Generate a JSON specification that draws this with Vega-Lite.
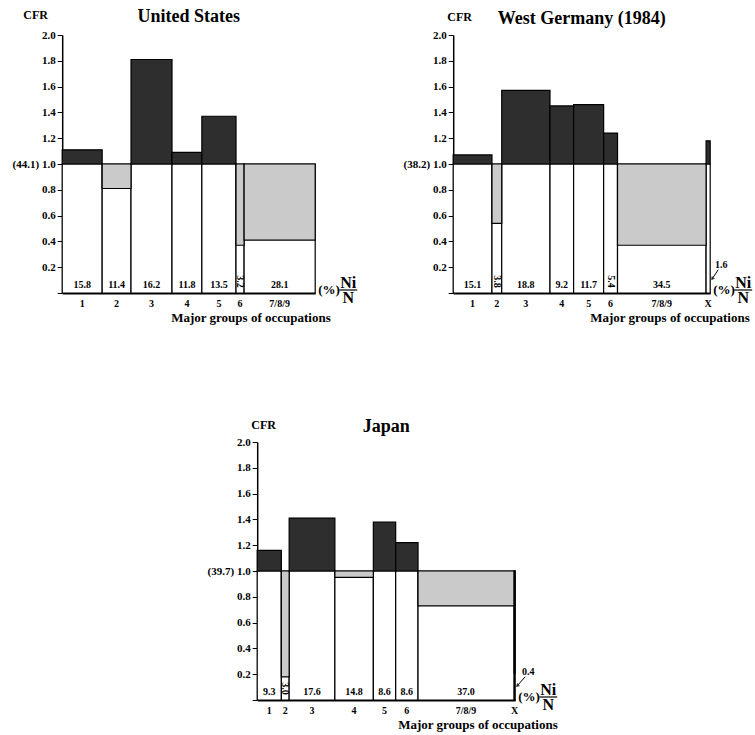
{
  "$schema": "https://vega.github.io/schema/vega-lite/v6.json",
  "padding": {"left": 1, "top": 8, "right": 2, "bottom": 2},
  "background": "white",
  "datasets": {
    "us": [
      {"o": 1, "g": "1", "pct": 15.8, "cfr": 1.11},
      {"o": 2, "g": "2", "pct": 11.4, "cfr": 0.81},
      {"o": 3, "g": "3", "pct": 16.2, "cfr": 1.81},
      {"o": 4, "g": "4", "pct": 11.8, "cfr": 1.09},
      {"o": 5, "g": "5", "pct": 13.5, "cfr": 1.37},
      {"o": 6, "g": "6", "pct": 3.2, "cfr": 0.37},
      {"o": 7, "g": "7/8/9", "pct": 28.1, "cfr": 0.41}
    ],
    "de": [
      {"o": 1, "g": "1", "pct": 15.1, "cfr": 1.07},
      {"o": 2, "g": "2", "pct": 3.8, "cfr": 0.54},
      {"o": 3, "g": "3", "pct": 18.8, "cfr": 1.57},
      {"o": 4, "g": "4", "pct": 9.2, "cfr": 1.45},
      {"o": 5, "g": "5", "pct": 11.7, "cfr": 1.46},
      {"o": 6, "g": "6", "pct": 5.4, "cfr": 1.24},
      {"o": 7, "g": "7/8/9", "pct": 34.5, "cfr": 0.37},
      {"o": 8, "g": "X", "pct": 1.6, "cfr": 1.18}
    ],
    "jp": [
      {"o": 1, "g": "1", "pct": 9.3, "cfr": 1.16},
      {"o": 2, "g": "2", "pct": 3.0, "cfr": 0.18},
      {"o": 3, "g": "3", "pct": 17.6, "cfr": 1.41},
      {"o": 4, "g": "4", "pct": 14.8, "cfr": 0.95},
      {"o": 5, "g": "5", "pct": 8.6, "cfr": 1.38},
      {"o": 6, "g": "6", "pct": 8.6, "cfr": 1.22},
      {"o": 7, "g": "7/8/9", "pct": 37.0, "cfr": 0.73},
      {"o": 8, "g": "X", "pct": 0.4, "cfr": 0.21}
    ]
  },
  "vconcat": [
    {
      "hconcat": [
        {
          "width": 253, "height": 258,
          "title": {"text": "United States", "dy": 22},
          "data": {"name": "us"},
          "transform": [{"stack": "pct", "groupby": [], "sort": [{"field": "o", "order": "ascending"}], "as": ["x0", "x1"]}],
          "layer": [
            {"mark": {"type": "rect", "fill": "white", "stroke": "black", "strokeWidth": 1.2},
             "encoding": {
               "x": {"field": "x0", "type": "quantitative", "scale": {"domain": [0, 100], "nice": false},
                     "axis": {"ticks": false, "labels": false, "domainWidth": 2, "title": "Major groups of occupations", "titleFontSize": 13, "titleAlign": "right", "titleBaseline": "middle", "titleX": 268, "titleY": 24}},
               "x2": {"field": "x1"},
               "y": {"datum": 0, "type": "quantitative", "scale": {"domain": [0, 2], "nice": false},
                     "axis": {"tickCount": 10, "labelOverlap": false, "labelBound": false, "labelExpr": "datum.value == 0 ? '' : datum.value == 1 ? '(44.1)     1.0' : format(datum.value, '.1f')", "tickSize": 5, "domainWidth": 1.5, "labelFontSize": 11, "labelPadding": 2, "title": "CFR", "titleAngle": 0, "titleAlign": "center", "titleBaseline": "middle", "titleX": -27, "titleY": -21, "titleFontSize": 12}},
               "y2": {"datum": 1}
             }},
            {"mark": {"type": "rect", "stroke": "black", "strokeWidth": 1.2},
             "encoding": {
               "x": {"field": "x0", "type": "quantitative"}, "x2": {"field": "x1"},
               "y": {"field": "cfr", "type": "quantitative"}, "y2": {"datum": 1},
               "fill": {"condition": {"test": "datum.cfr > 1", "value": "#2e2e2e"}, "value": "#cacaca"}
             }},
            {"transform": [{"filter": "datum.pct >= 6"}, {"fold": ["x0", "x1"], "as": ["k", "xv"]}, {"aggregate": [{"op": "mean", "field": "xv", "as": "xm"}], "groupby": ["o", "g", "pct"]}],
             "mark": {"type": "text", "baseline": "bottom", "dy": -3, "fontSize": 10},
             "encoding": {"x": {"field": "xm", "type": "quantitative"}, "y": {"datum": 0}, "text": {"field": "pct", "format": ".1f"}}},
            {"transform": [{"filter": "datum.pct >= 2 && datum.pct < 6"}, {"fold": ["x0", "x1"], "as": ["k", "xv"]}, {"aggregate": [{"op": "mean", "field": "xv", "as": "xm"}], "groupby": ["o", "g", "pct"]}],
             "mark": {"type": "text", "baseline": "middle", "align": "center", "angle": 90, "fontSize": 10},
             "encoding": {"x": {"field": "xm", "type": "quantitative"}, "y": {"datum": 0.09}, "text": {"field": "pct", "format": ".1f"}}},
            {"transform": [{"fold": ["x0", "x1"], "as": ["k", "xv"]}, {"aggregate": [{"op": "mean", "field": "xv", "as": "xm"}], "groupby": ["o", "g", "pct"]}],
             "mark": {"type": "text", "baseline": "middle", "dy": 11, "fontSize": 10},
             "encoding": {"x": {"field": "xm", "type": "quantitative"}, "y": {"datum": 0}, "text": {"field": "g"}}},
            {"transform": [{"filter": "datum.o == 1"}],
             "mark": {"type": "text", "align": "left", "baseline": "middle", "dx": 3, "dy": -3, "fontSize": 13},
             "encoding": {"x": {"datum": 100}, "y": {"datum": 0}, "text": {"value": "(%)"}}},
            {"transform": [{"filter": "datum.o == 1"}],
             "mark": {"type": "text", "align": "center", "baseline": "middle", "dx": 33, "dy": -10, "fontSize": 16},
             "encoding": {"x": {"datum": 100}, "y": {"datum": 0}, "text": {"value": "Ni"}}},
            {"transform": [{"filter": "datum.o == 1"}],
             "mark": {"type": "text", "align": "center", "baseline": "middle", "dx": 33, "dy": 5, "fontSize": 16},
             "encoding": {"x": {"datum": 100}, "y": {"datum": 0}, "text": {"value": "N"}}},
            {"transform": [{"filter": "datum.o == 1"}],
             "mark": {"type": "rule", "color": "black", "strokeWidth": 1.2, "xOffset": 24, "x2Offset": 42, "yOffset": -3},
             "encoding": {"x": {"datum": 100}, "x2": {"datum": 100}, "y": {"datum": 0}}}
          ]
        },
        {
          "width": 257, "height": 258,
          "title": {"text": "West Germany (1984)", "dy": 22},
          "data": {"name": "de"},
          "transform": [{"stack": "pct", "groupby": [], "sort": [{"field": "o", "order": "ascending"}], "as": ["x0", "x1"]}],
          "layer": [
            {"mark": {"type": "rect", "fill": "white", "stroke": "black", "strokeWidth": 1.2},
             "encoding": {
               "x": {"field": "x0", "type": "quantitative", "scale": {"domain": [0, 100.1], "nice": false},
                     "axis": {"ticks": false, "labels": false, "domainWidth": 2, "title": "Major groups of occupations", "titleFontSize": 13, "titleAlign": "right", "titleBaseline": "middle", "titleX": 296, "titleY": 24}},
               "x2": {"field": "x1"},
               "y": {"datum": 0, "type": "quantitative", "scale": {"domain": [0, 2], "nice": false},
                     "axis": {"tickCount": 10, "labelOverlap": false, "labelBound": false, "labelExpr": "datum.value == 0 ? '' : datum.value == 1 ? '(38.2)  1.0' : format(datum.value, '.1f')", "tickSize": 5, "domainWidth": 1.5, "labelFontSize": 11, "labelPadding": 2, "title": "CFR", "titleAngle": 0, "titleAlign": "center", "titleBaseline": "middle", "titleX": 6, "titleY": -19, "titleFontSize": 12}},
               "y2": {"datum": 1}
             }},
            {"mark": {"type": "rect", "stroke": "black", "strokeWidth": 1.2},
             "encoding": {
               "x": {"field": "x0", "type": "quantitative"}, "x2": {"field": "x1"},
               "y": {"field": "cfr", "type": "quantitative"}, "y2": {"datum": 1},
               "fill": {"condition": {"test": "datum.cfr > 1", "value": "#2e2e2e"}, "value": "#cacaca"}
             }},
            {"transform": [{"filter": "datum.pct >= 6"}, {"fold": ["x0", "x1"], "as": ["k", "xv"]}, {"aggregate": [{"op": "mean", "field": "xv", "as": "xm"}], "groupby": ["o", "g", "pct"]}],
             "mark": {"type": "text", "baseline": "bottom", "dy": -3, "fontSize": 10},
             "encoding": {"x": {"field": "xm", "type": "quantitative"}, "y": {"datum": 0}, "text": {"field": "pct", "format": ".1f"}}},
            {"transform": [{"filter": "datum.pct >= 2 && datum.pct < 6"}, {"fold": ["x0", "x1"], "as": ["k", "xv"]}, {"aggregate": [{"op": "mean", "field": "xv", "as": "xm"}], "groupby": ["o", "g", "pct"]}],
             "mark": {"type": "text", "baseline": "middle", "align": "center", "angle": 90, "fontSize": 10},
             "encoding": {"x": {"field": "xm", "type": "quantitative"}, "y": {"datum": 0.09}, "text": {"field": "pct", "format": ".1f"}}},
            {"transform": [{"filter": "datum.pct < 2"}],
             "mark": {"type": "text", "baseline": "middle", "align": "center", "dx": 11, "fontSize": 10},
             "encoding": {"x": {"field": "x1", "type": "quantitative"}, "y": {"datum": 0.22}, "text": {"field": "pct", "format": ".1f"}}},
            {"transform": [{"filter": "datum.pct < 2"}],
             "mark": {"type": "rule", "color": "black", "strokeWidth": 1, "xOffset": 8, "x2Offset": 2},
             "encoding": {"x": {"field": "x1", "type": "quantitative"}, "x2": {"field": "x1"}, "y": {"datum": 0.18}, "y2": {"datum": 0.11}}},
            {"transform": [{"filter": "datum.pct < 2"}],
             "mark": {"type": "point", "shape": "triangle-up", "filled": true, "color": "black", "size": 18, "angle": 220, "xOffset": 2},
             "encoding": {"x": {"field": "x1", "type": "quantitative"}, "y": {"datum": 0.11}}},
            {"transform": [{"fold": ["x0", "x1"], "as": ["k", "xv"]}, {"aggregate": [{"op": "mean", "field": "xv", "as": "xm"}], "groupby": ["o", "g", "pct"]}],
             "mark": {"type": "text", "baseline": "middle", "dy": 11, "fontSize": 10},
             "encoding": {"x": {"field": "xm", "type": "quantitative"}, "y": {"datum": 0}, "text": {"field": "g"}}},
            {"transform": [{"filter": "datum.o == 1"}],
             "mark": {"type": "text", "align": "left", "baseline": "middle", "dx": 3, "dy": -3, "fontSize": 13},
             "encoding": {"x": {"datum": 100.1}, "y": {"datum": 0}, "text": {"value": "(%)"}}},
            {"transform": [{"filter": "datum.o == 1"}],
             "mark": {"type": "text", "align": "center", "baseline": "middle", "dx": 33, "dy": -10, "fontSize": 16},
             "encoding": {"x": {"datum": 100.1}, "y": {"datum": 0}, "text": {"value": "Ni"}}},
            {"transform": [{"filter": "datum.o == 1"}],
             "mark": {"type": "text", "align": "center", "baseline": "middle", "dx": 33, "dy": 5, "fontSize": 16},
             "encoding": {"x": {"datum": 100.1}, "y": {"datum": 0}, "text": {"value": "N"}}},
            {"transform": [{"filter": "datum.o == 1"}],
             "mark": {"type": "rule", "color": "black", "strokeWidth": 1.2, "xOffset": 24, "x2Offset": 42, "yOffset": -3},
             "encoding": {"x": {"datum": 100.1}, "x2": {"datum": 100.1}, "y": {"datum": 0}}}
          ]
        }
      ],
      "spacing": 138,
      "bounds": "flush"
    },
    {
      "width": 258, "height": 258,
      "title": {"text": "Japan", "dy": 22},
      "data": {"name": "jp"},
      "transform": [{"stack": "pct", "groupby": [], "sort": [{"field": "o", "order": "ascending"}], "as": ["x0", "x1"]}],
      "layer": [
        {"mark": {"type": "rect", "fill": "white", "stroke": "black", "strokeWidth": 1.2},
         "encoding": {
           "x": {"field": "x0", "type": "quantitative", "scale": {"domain": [0, 99.3], "nice": false},
                 "axis": {"ticks": false, "labels": false, "domainWidth": 2, "title": "Major groups of occupations", "titleFontSize": 13, "titleAlign": "right", "titleBaseline": "middle", "titleX": 300, "titleY": 24}},
           "x2": {"field": "x1"},
           "y": {"datum": 0, "type": "quantitative", "scale": {"domain": [0, 2], "nice": false},
                 "axis": {"tickCount": 10, "labelOverlap": false, "labelBound": false, "labelExpr": "datum.value == 0 ? '' : datum.value == 1 ? '(39.7)     1.0' : format(datum.value, '.1f')", "tickSize": 5, "domainWidth": 1.5, "labelFontSize": 11, "labelPadding": 2, "title": "CFR", "titleAngle": 0, "titleAlign": "center", "titleBaseline": "middle", "titleX": 6, "titleY": -18, "titleFontSize": 12}},
           "y2": {"datum": 1}
         }},
        {"mark": {"type": "rect", "stroke": "black", "strokeWidth": 1.2},
         "encoding": {
           "x": {"field": "x0", "type": "quantitative"}, "x2": {"field": "x1"},
           "y": {"field": "cfr", "type": "quantitative"}, "y2": {"datum": 1},
           "fill": {"condition": {"test": "datum.cfr > 1", "value": "#2e2e2e"}, "value": "#cacaca"}
         }},
        {"transform": [{"filter": "datum.pct >= 6"}, {"fold": ["x0", "x1"], "as": ["k", "xv"]}, {"aggregate": [{"op": "mean", "field": "xv", "as": "xm"}], "groupby": ["o", "g", "pct"]}],
         "mark": {"type": "text", "baseline": "bottom", "dy": -3, "fontSize": 10},
         "encoding": {"x": {"field": "xm", "type": "quantitative"}, "y": {"datum": 0}, "text": {"field": "pct", "format": ".1f"}}},
        {"transform": [{"filter": "datum.pct >= 2 && datum.pct < 6"}, {"fold": ["x0", "x1"], "as": ["k", "xv"]}, {"aggregate": [{"op": "mean", "field": "xv", "as": "xm"}], "groupby": ["o", "g", "pct"]}],
         "mark": {"type": "text", "baseline": "middle", "align": "center", "angle": 90, "fontSize": 10},
         "encoding": {"x": {"field": "xm", "type": "quantitative"}, "y": {"datum": 0.09}, "text": {"field": "pct", "format": ".1f"}}},
        {"transform": [{"filter": "datum.pct < 2"}],
         "mark": {"type": "text", "baseline": "middle", "align": "center", "dx": 13, "fontSize": 10},
         "encoding": {"x": {"field": "x1", "type": "quantitative"}, "y": {"datum": 0.22}, "text": {"field": "pct", "format": ".1f"}}},
        {"transform": [{"filter": "datum.pct < 2"}],
         "mark": {"type": "rule", "color": "black", "strokeWidth": 1, "xOffset": 10, "x2Offset": 2},
         "encoding": {"x": {"field": "x1", "type": "quantitative"}, "x2": {"field": "x1"}, "y": {"datum": 0.18}, "y2": {"datum": 0.11}}},
        {"transform": [{"filter": "datum.pct < 2"}],
         "mark": {"type": "point", "shape": "triangle-up", "filled": true, "color": "black", "size": 18, "angle": 230, "xOffset": 2},
         "encoding": {"x": {"field": "x1", "type": "quantitative"}, "y": {"datum": 0.11}}},
        {"transform": [{"fold": ["x0", "x1"], "as": ["k", "xv"]}, {"aggregate": [{"op": "mean", "field": "xv", "as": "xm"}], "groupby": ["o", "g", "pct"]}],
         "mark": {"type": "text", "baseline": "middle", "dy": 11, "fontSize": 10},
         "encoding": {"x": {"field": "xm", "type": "quantitative"}, "y": {"datum": 0}, "text": {"field": "g"}}},
        {"transform": [{"filter": "datum.o == 1"}],
         "mark": {"type": "text", "align": "left", "baseline": "middle", "dx": 3, "dy": -3, "fontSize": 13},
         "encoding": {"x": {"datum": 99.3}, "y": {"datum": 0}, "text": {"value": "(%)"}}},
        {"transform": [{"filter": "datum.o == 1"}],
         "mark": {"type": "text", "align": "center", "baseline": "middle", "dx": 33, "dy": -10, "fontSize": 16},
         "encoding": {"x": {"datum": 99.3}, "y": {"datum": 0}, "text": {"value": "Ni"}}},
        {"transform": [{"filter": "datum.o == 1"}],
         "mark": {"type": "text", "align": "center", "baseline": "middle", "dx": 33, "dy": 5, "fontSize": 16},
         "encoding": {"x": {"datum": 99.3}, "y": {"datum": 0}, "text": {"value": "N"}}},
        {"transform": [{"filter": "datum.o == 1"}],
         "mark": {"type": "rule", "color": "black", "strokeWidth": 1.2, "xOffset": 24, "x2Offset": 42, "yOffset": -3},
         "encoding": {"x": {"datum": 99.3}, "x2": {"datum": 99.3}, "y": {"datum": 0}}}
      ]
    }
  ],
  "spacing": 94,
  "center": true,
  "config": {
    "view": {"stroke": null},
    "font": "Liberation Serif",
    "axis": {"labelFont": "Liberation Serif", "labelFontWeight": "bold", "titleFont": "Liberation Serif", "titleFontWeight": "bold", "domainColor": "black", "tickColor": "black", "labelColor": "black", "titleColor": "black", "grid": false, "labelOverlap": false},
    "text": {"font": "Liberation Serif", "fontWeight": "bold", "fill": "black"},
    "title": {"font": "Liberation Serif", "fontWeight": "bold", "fontSize": 18, "color": "black", "offset": 0, "anchor": "middle"}
  }
}
